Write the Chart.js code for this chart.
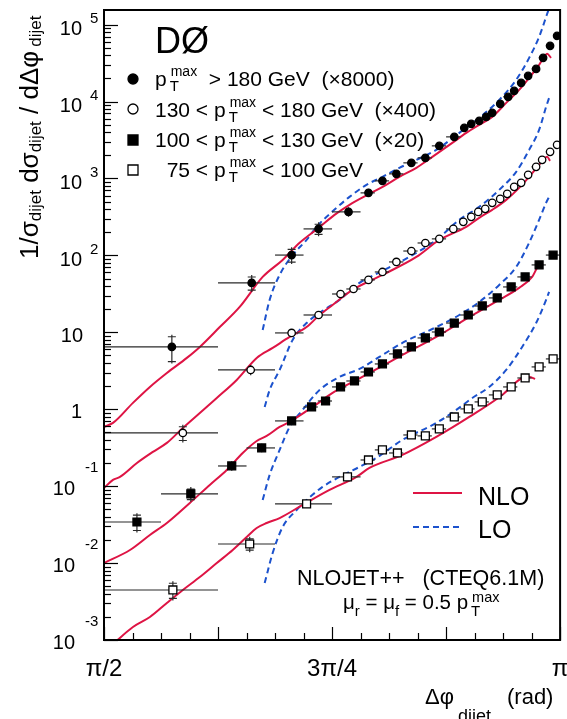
<!DOCTYPE html>
<html><head><meta charset="utf-8">
<script src="https://cdn.jsdelivr.net/npm/chart.js@4.4.0/dist/chart.umd.min.js"></script>
<style>html,body{margin:0;padding:0;background:#fff}canvas{display:block}</style>
</head><body>
<canvas id="c" width="567" height="719"></canvas>
<script>
const PI = Math.PI;
// ---- data: bin edges in units of pi/128, points in rad ----
const edgesA = [64,80,88,92,96,100,102,104,106,108,110,112,114,115,116,117,118,119,120,121,122,123,124,125,126,127,128];
const xA = [1.8045,2.0795,2.2170,2.3098,2.4129,2.4816,2.5297,2.5778,2.6294,2.6775,2.7256,2.7772,2.8116,2.8356,2.8631,2.8872,2.9078,2.9353,2.9628,2.9834,3.0075,3.0315,3.0590,3.0831,3.1071,3.1312];
const yA = [6.46,43.9,101,221,368,650,931,1148,1596,1854,2655,3475,4550,5129,5610,6324,7129,9333,11510,13770,17500,21580,26600,37000,52970,71450];
const errA = [2.3,8.5,19,33,30,40,50,50,60,70,90,100,120,130,140,150,160,200,250,300,350,430,530,740,1060,1430];

const edgesB = [64,80,88,92,96,98,100,102,104,106,108,110,112,114,115,116,117,118,119,120,121,122,123,124,125,126,127,128];
const xB = [1.8423,2.0760,2.2170,2.3098,2.3854,2.4301,2.4816,2.5297,2.5778,2.6294,2.6775,2.7256,2.7738,2.8081,2.8356,2.8597,2.8837,2.9078,2.9353,2.9594,2.9834,3.0075,3.0315,3.0590,3.0797,3.1071,3.1312];
const yB = [0.492,3.24,9.82,16.8,31.5,36.6,48.0,60.9,82.2,114,145,164,221,273,317,368,403,482,543,631,778,877,1114,1416,1746,2218,2735];
const errB = [0.1,0.3,0.6,0.8,1.2,1.3,1.6,2,2.5,3.5,4,5,6,8,9,10,11,13,15,17,20,23,30,38,46,58,72];

const edgesC = [64,72,80,84,88,92,94,96,98,100,102,104,106,108,110,112,114,116,118,120,122,124,126,128];
const xC = [1.6842,1.8698,2.0107,2.1138,2.2170,2.2857,2.3338,2.3854,2.4335,2.4816,2.5297,2.5813,2.6294,2.6775,2.7256,2.7772,2.8253,2.8735,2.9250,2.9731,3.0212,3.0693,3.1175];
const yC = [0.0342,0.0792,0.183,0.314,0.705,1.07,1.28,1.95,2.33,3.05,3.88,5.24,6.46,8.45,10.1,13.2,16.8,22.0,28.0,38.9,52.5,75.2,101];
const errC = [0.0077,0.0125,0.015,0.02,0.03,0.04,0.05,0.06,0.07,0.09,0.11,0.14,0.17,0.21,0.25,0.32,0.4,0.5,0.65,0.9,1.2,1.7,2.3];

const edgesD = [64,80,88,96,100,102,104,106,108,110,112,114,116,118,120,122,124,126,128];
const xD = [1.8080,2.0726,2.2685,2.4094,2.4816,2.5297,2.5813,2.6294,2.6775,2.7256,2.7772,2.8253,2.8735,2.9250,2.9731,3.0212,3.0693,3.1175];
const yD = [0.00447,0.0177,0.0588,0.132,0.219,0.296,0.270,0.463,0.450,0.555,0.794,1.01,1.245,1.535,1.95,2.55,3.55,4.51];
const errD = [0.001,0.003,0.002,0.004,0.006,0.008,0.008,0.012,0.012,0.014,0.02,0.025,0.03,0.038,0.048,0.062,0.085,0.11];

// NLO curves
const nloA_x = [1.5708,1.6017,1.6705,1.7289,1.7873,1.8561,1.9008,1.9695,2.0382,2.1173,2.1860,2.2445,2.3098,2.3647,2.4163,2.4850,2.5366,2.5882,2.6466,2.7016,2.7703,2.8184,2.8631,2.9078,2.9559,3.0006,3.0350,3.0693,3.0865,3.0968,3.1106];
const nloA_y = [0.589,0.664,1.21,1.95,2.96,4.65,6.46,11.7,21.4,52.5,87.3,146,228,336,454,631,801,1050,1374,1910,2904,3917,4977,6324,9616,14190,20320,29990,38110,41690,36980];
const nloB_x = [1.5708,1.6017,1.6258,1.6842,1.7392,1.7873,1.8423,1.9008,1.9592,2.0279,2.0967,2.1517,2.2101,2.2685,2.3132,2.3579,2.4266,2.5297,2.6466,2.7256,2.8184,2.8631,2.9078,2.9559,3.0006,3.0350,3.0693,3.0865,3.0968,3.1071];
const nloB_y = [0.0948,0.1205,0.132,0.200,0.279,0.365,0.571,0.895,1.40,2.40,4.65,6.27,8.71,11.7,16.8,22.7,35.6,55.7,95.5,159,235,308,391,527,755,1050,1503,1799,1910,1694];
const nloC_x = [1.5708,1.6602,1.7289,1.7873,1.8664,1.9351,1.9936,2.0485,2.0967,2.1310,2.1757,2.2101,2.2891,2.3579,2.4404,2.4850,2.5985,2.7153,2.8287,2.9319,3.0006,3.0453,3.0625,3.0728,3.0797];
const nloC_y = [0.01002,0.01479,0.0232,0.0332,0.0605,0.1038,0.1626,0.270,0.387,0.450,0.589,0.684,1.07,1.63,2.40,2.96,5.08,8.71,15.8,26.4,37.8,52.5,68.7,75.2,68.7];
const nloD_x = [1.6017,1.6705,1.7289,1.7873,1.8423,1.9008,1.9592,2.0142,2.0623,2.0967,2.1310,2.1757,2.2548,2.3476,2.4404,2.4850,2.5985,2.7153,2.8287,2.9422,3.0109,3.0350,3.0556];
const nloD_y = [0.000887,0.001476,0.00199,0.00303,0.00447,0.00659,0.01002,0.01479,0.0218,0.0286,0.0332,0.0385,0.0570,0.0893,0.132,0.173,0.255,0.437,0.794,1.535,2.55,2.63,2.48];
// LO curves
const loA_x = [2.1173,2.1413,2.1757,2.2204,2.2685,2.3029,2.3716,2.4163,2.4747,2.5297,2.5882,2.6466,2.7153,2.7944,2.8631,2.9319,2.9903,3.0350,3.0693,3.0934,3.1037,3.1106];
const loA_y = [10.7,26.4,55.7,101,159,235,415,577,826,1050,1374,1746,2355,3917,6138,10520,19140,36980,69340,126200,165300,210000];
const loB_x = [2.1242,2.1413,2.1757,2.2204,2.2685,2.3235,2.3819,2.4507,2.5297,2.6225,2.7153,2.7944,2.8631,2.9319,2.9903,3.0350,3.0693,3.0934,3.1037];
const loB_y = [1.07,1.78,3.24,7.96,13.2,19.0,26.4,43.9,62.9,95.5,159,290,428,711,1219,2355,4285,8531,11170];
const loC_x = [2.1173,2.1413,2.1757,2.2101,2.2548,2.3132,2.3819,2.4507,2.5194,2.5985,2.7153,2.7944,2.8631,2.9319,2.9903,3.0350,3.0693,3.0934,3.1037];
const loC_y = [0.0662,0.140,0.296,0.589,0.980,1.78,2.63,3.34,4.79,7.28,11.7,16.8,24.8,41.3,70.8,146,290,482,577];
const loD_x = [2.1242,2.1517,2.1860,2.2341,2.2685,2.3235,2.3819,2.4507,2.5091,2.5985,2.7153,2.7841,2.8391,2.8975,2.9559,3.0109,3.0590,3.0934,3.1037];
const loD_y = [0.00551,0.01352,0.0294,0.0490,0.0662,0.0977,0.132,0.178,0.233,0.399,0.664,0.980,1.40,1.95,3.24,6.46,13.2,26.4,33.5];

// ticks / labels
const xTickVals = [PI/2, 3*PI/4, PI];
const xTickLabels = ['π/2', '3π/4', 'π'];
const yExps = [-3,-2,-1,0,1,2,3,4,5];
const seriesLabels = [
  [{t:'p'},{sub:'T',sup:'max'},{t:'  > 180 GeV  (×8000)'}],
  [{t:'130 < p'},{sub:'T',sup:'max'},{t:' < 180 GeV  (×400)'}],
  [{t:'100 < p'},{sub:'T',sup:'max'},{t:' < 130 GeV  (×20)'}],
  [{t:'  75 < p'},{sub:'T',sup:'max'},{t:' < 100 GeV'}]
];

const RED = 'rgb(222,20,68)';
const BLUE = 'rgb(28,82,205)';
const FAM = '"Liberation Sans", Arial, Helvetica, sans-serif';

function pts(xs, ys){ return xs.map((x,i)=>({x:x, y:ys[i]})); }

function drawRich(ctx, x, y, segs, size, subSize, supSize, subDy, supDy){
  let cx = x;
  ctx.textAlign = 'left'; ctx.textBaseline = 'alphabetic';
  for (const s of segs){
    if (s.sub !== undefined){
      ctx.font = subSize + 'px ' + FAM;
      const gx = cx + 3;
      ctx.fillText(s.sub, gx, y + subDy);
      const w1 = ctx.measureText(s.sub).width;
      ctx.font = supSize + 'px ' + FAM;
      ctx.fillText(s.sup, gx + 1, y + supDy);
      const w2 = ctx.measureText(s.sup).width + 1;
      cx = gx + Math.max(w1, w2);
    } else {
      ctx.font = (s.size || size) + 'px ' + FAM;
      ctx.fillText(s.t, cx + (s.dx || 0), y + (s.dy || 0));
      cx += ctx.measureText(s.t).width + (s.dx || 0);
    }
  }
  return cx;
}

const errPlugin = {
  id: 'errbars',
  beforeDatasetDraw(chart, args){
    const ds = chart.data.datasets[args.index];
    if (!ds.edges) return;
    const {ctx, chartArea:a, scales:{x, y}} = chart;
    ctx.save();
    ctx.beginPath(); ctx.rect(a.left, a.top, a.right-a.left, a.bottom-a.top); ctx.clip();
    ctx.strokeStyle = '#2a2a2a'; ctx.lineWidth = 1.2;
    ds.data.forEach((p, i) => {
      const py = y.getPixelForValue(p.y), px = x.getPixelForValue(p.x);
      const xl = x.getPixelForValue(ds.edges[i]*PI/128), xr = x.getPixelForValue(ds.edges[i+1]*PI/128);
      ctx.beginPath(); ctx.moveTo(xl, py); ctx.lineTo(xr, py); ctx.stroke();
      const e = ds.err[i];
      const yt = y.getPixelForValue(p.y + e), yb = y.getPixelForValue(Math.max(p.y - e, 1e-9));
      ctx.beginPath(); ctx.moveTo(px, yt - 2); ctx.lineTo(px, yb + 2);
      if (yb - yt > 10){
        ctx.moveTo(px-4, yt); ctx.lineTo(px+4, yt);
        ctx.moveTo(px-4, yb); ctx.lineTo(px+4, yb);
      }
      ctx.stroke();
    });
    ctx.restore();
  }
};

const framePlugin = {
  id: 'frame',
  afterDraw(chart){
    const {ctx, chartArea:a, scales:{x, y}} = chart;
    ctx.save();
    ctx.fillStyle = '#000'; ctx.strokeStyle = '#000';
    // y ticks (inside)
    ctx.lineWidth = 1.2;
    for (let e = -3; e <= 5; e++){
      for (let k = 1; k <= 9; k++){
        const v = k * Math.pow(10, e);
        if (v < y.min || v > y.max) continue;
        const py = Math.round(y.getPixelForValue(v)) + 0.5;
        const len = k === 1 ? 14 : 7;
        ctx.beginPath(); ctx.moveTo(a.left, py); ctx.lineTo(a.left + len, py); ctx.stroke();
      }
    }
    // x ticks
    for (let i = 0; i <= 16; i++){
      const v = PI/2 + i*PI/32;
      const px = Math.round(x.getPixelForValue(v)) + 0.5;
      const len = i % 4 === 0 ? 13 : 7;
      ctx.beginPath(); ctx.moveTo(px, a.bottom); ctx.lineTo(px, a.bottom - len); ctx.stroke();
    }
    // frame
    ctx.lineWidth = 2;
    ctx.strokeRect(a.left, a.top, a.right - a.left, a.bottom - a.top);

    // y labels
    ctx.textBaseline = 'alphabetic';
    yExps.forEach(e => {
      const py = y.getPixelForValue(Math.pow(10, e));
      ctx.font = '20px ' + FAM; ctx.textAlign = 'right';
      if (e === 0){ ctx.fillText('1', 82, py + 8.5); }
      else if (e === 1){ ctx.fillText('10', 83, py + 9.5); }
      else if (e > 1){
        ctx.fillText('10', 82, py + 10.5);
        ctx.font = '15px ' + FAM; ctx.textAlign = 'left';
        ctx.fillText(String(e), 90, py - 1.5);
      } else {
        ctx.fillText('10', 75, py + 9);
        ctx.font = '15px ' + FAM; ctx.textAlign = 'left';
        ctx.fillText(String(e), 85, py - 14);
      }
    });
    // x labels
    ctx.font = '24px ' + FAM; ctx.textAlign = 'center';
    xTickVals.forEach((v, i) => {
      ctx.fillText(xTickLabels[i], x.getPixelForValue(v), 676);
    });
    // x title
    ctx.textAlign = 'left';
    ctx.font = '22px ' + FAM; ctx.fillText('Δφ', 425, 704);
    ctx.font = '18px ' + FAM; ctx.fillText('dijet', 458, 722);
    ctx.font = '22px ' + FAM; ctx.fillText('(rad)', 507, 704);
    // y title (rotated)
    ctx.save();
    ctx.translate(38, 259); ctx.rotate(-PI/2);
    drawRich(ctx, 0, 0, [
      {t:'1/σ'},{t:'dijet', size:17, dy:3},{t:' dσ'},{t:'dijet', size:17, dy:3},
      {t:' / dΔφ'},{t:'dijet', size:17, dy:3, dx:4}
    ], 26, 17, 17, 3, 0);
    ctx.restore();

    // DØ
    ctx.font = '36px ' + FAM; ctx.textAlign = 'left';
    ctx.fillText('DØ', 155, 53);
    // series legend
    const mx = 133, rowsY = [79, 109, 140, 170], base = [86, 117, 147, 177];
    const styles = [['circle','#000'],['circle','#fff'],['rect','#000'],['rect','#fff']];
    styles.forEach((s, i) => {
      ctx.fillStyle = s[1]; ctx.strokeStyle = '#000'; ctx.lineWidth = 1.3;
      ctx.beginPath();
      if (s[0] === 'circle') ctx.arc(mx, rowsY[i], 5, 0, 2*PI);
      else ctx.rect(mx - 5, rowsY[i] - 5, 10, 10);
      ctx.fill(); ctx.stroke();
      ctx.fillStyle = '#000';
      drawRich(ctx, 155, base[i], seriesLabels[i], 21, 15, 14, 5, -10);
    });
    // NLO / LO legend
    ctx.lineWidth = 2.2; ctx.strokeStyle = RED;
    ctx.beginPath(); ctx.moveTo(413, 493); ctx.lineTo(462, 493); ctx.stroke();
    ctx.strokeStyle = BLUE; ctx.setLineDash([6,4]);
    ctx.beginPath(); ctx.moveTo(413, 527); ctx.lineTo(462, 527); ctx.stroke();
    ctx.setLineDash([]);
    ctx.fillStyle = '#000'; ctx.font = '25px ' + FAM;
    ctx.fillText('NLO', 478, 505);
    ctx.fillText('LO', 478, 538);
    // model text
    ctx.font = '21.5px ' + FAM;
    ctx.fillText('NLOJET++   (CTEQ6.1M)', 297, 585);
    drawRich(ctx, 343, 609, [
      {t:'μ'},{t:'r', size:15, dy:7},{t:' = μ'},{t:'f', size:15, dy:7},{t:' = 0.5 p'},{sub:'T', sup:'max'}
    ], 20.5, 15, 14.5, 7, -7);
    ctx.restore();
  }
};

function pointSet(xs, ys, edges, err, style, fill){
  return {data: pts(xs, ys), edges: edges, err: err, showLine: false,
    pointStyle: style, pointRadius: style === 'rect' ? 5.6 : 3.7,
    backgroundColor: fill, borderColor: '#000', borderWidth: 1.3, order: 0};
}
function curve(xs, ys, color, dash){
  return {data: pts(xs, ys), showLine: true, pointRadius: 0, borderColor: color,
    borderWidth: 2, borderDash: dash || [], fill: false,
    cubicInterpolationMode: 'monotone', order: 1};
}

new Chart(document.getElementById('c'), {
  type: 'scatter',
  data: {datasets: [
    pointSet(xA, yA, edgesA, errA, 'circle', '#000'),
    pointSet(xB, yB, edgesB, errB, 'circle', '#fff'),
    pointSet(xC, yC, edgesC, errC, 'rect', '#000'),
    pointSet(xD, yD, edgesD, errD, 'rect', '#fff'),
    curve(nloA_x, nloA_y, RED), curve(nloB_x, nloB_y, RED),
    curve(nloC_x, nloC_y, RED), curve(nloD_x, nloD_y, RED),
    curve(loA_x, loA_y, BLUE, [6,4]), curve(loB_x, loB_y, BLUE, [6,4]),
    curve(loC_x, loC_y, BLUE, [6,4]), curve(loD_x, loD_y, BLUE, [6,4])
  ]},
  options: {
    responsive: false, animation: false, devicePixelRatio: 1, events: [],
    layout: {padding: {left: 104, right: 6, top: 10, bottom: 79}},
    plugins: {legend: {display: false}, tooltip: {enabled: false}},
    scales: {
      x: {type: 'linear', min: PI/2, max: PI, display: false},
      y: {type: 'logarithmic', min: 1e-3, max: 1.55e5, display: false}
    }
  },
  plugins: [errPlugin, framePlugin]
});
</script></body></html>
